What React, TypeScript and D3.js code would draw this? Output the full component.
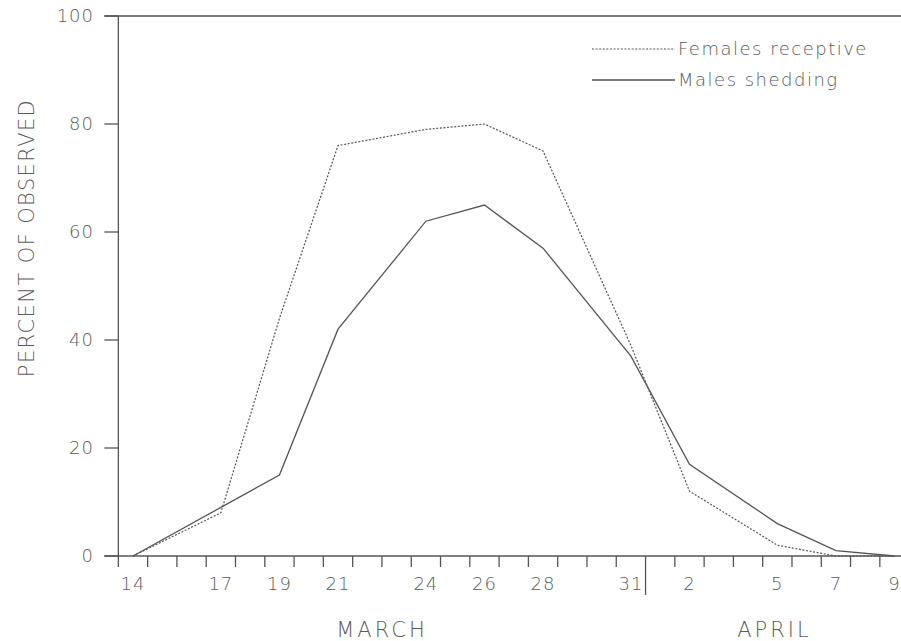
import React from "react";
import * as d3 from "d3";

const dayLabels = ["14", "17", "19", "21", "24", "26", "28", "31", "2", "5", "7", "9"];
const dayIndex = [0, 3, 5, 7, 10, 12, 14, 17, 19, 22, 24, 26];
const females = [0, 8, 44, 76, 79, 80, 75, 39, 12, 2, 0, 0];
const males = [0, 9, 15, 42, 62, 65, 57, 37, 17, 6, 1, 0];
const yTicks = [0, 20, 40, 60, 80, 100];
const monthLabels = [
  { name: "MARCH", at: 8.5 },
  { name: "APRIL", at: 21.9 },
];
const monthBoundary = 17.5;
const seriesNames = ["Females receptive", "Males shedding"];

const W = 901;
const H = 641;
const FONT = "'DejaVu Sans', sans-serif";
const TXT = "#5a5a5a";
const AX = "#555";

export default function App() {
  const x = d3.scaleLinear().domain([0, 26]).range([133, 894.5]);
  const y = d3.scaleLinear().domain([0, 100]).range([556, 16]);
  const axisX = x(-0.5);

  const line = d3
    .line<number>()
    .x((_, i) => x(dayIndex[i]))
    .y((v) => y(v));

  const minorTicks = d3.range(0, 26).map((i) => i + 0.5).filter((t) => t !== monthBoundary);

  return (
    <svg width={W} height={H} style={{ position: "absolute", left: 0, top: 0, background: "#fff" }}>
      {/* y axis line */}
      <line x1={axisX} x2={axisX} y1={y(100)} y2={y(0) + 11} stroke={AX} strokeWidth={1.3} />
      {/* top frame line */}
      <line x1={axisX - 14} x2={W} y1={y(100)} y2={y(100)} stroke={AX} strokeWidth={1.3} />
      {/* x axis line */}
      <line x1={axisX - 14} x2={W} y1={y(0)} y2={y(0)} stroke={AX} strokeWidth={1.3} />
      {yTicks.map((t) => (
        <g key={t}>
          <line x1={axisX - 14} x2={axisX} y1={y(t)} y2={y(t)} stroke={AX} strokeWidth={1.3} />
          <text
            x={94}
            y={y(t)}
            dy="0.36em"
            textAnchor="end"
            fontFamily={FONT}
            fontWeight={200}
            fontSize={18}
            letterSpacing={1}
            fill={TXT}
          >
            {t}
          </text>
        </g>
      ))}
      {minorTicks.map((t) => (
        <line key={t} x1={x(t)} x2={x(t)} y1={y(0)} y2={y(0) + 11} stroke={AX} strokeWidth={1.3} />
      ))}
      <line
        x1={x(monthBoundary)}
        x2={x(monthBoundary)}
        y1={y(0)}
        y2={y(0) + 39}
        stroke={AX}
        strokeWidth={1.3}
      />
      {dayLabels.map((d, i) => (
        <text
          key={i}
          x={x(dayIndex[i])}
          y={590}
          textAnchor="middle"
          fontFamily={FONT}
          fontWeight={200}
          fontSize={18}
          letterSpacing={1}
          fill={TXT}
        >
          {d}
        </text>
      ))}
      {monthLabels.map((m) => (
        <text
          key={m.name}
          x={x(m.at)}
          y={637}
          textAnchor="middle"
          fontFamily={FONT}
          fontWeight={200}
          fontSize={21}
          letterSpacing={3}
          fill={TXT}
        >
          {m.name}
        </text>
      ))}
      <text
        transform={`translate(34, ${238}) rotate(-90)`}
        textAnchor="middle"
        fontFamily={FONT}
        fontWeight={200}
        fontSize={21}
        letterSpacing={1.4}
        fill={TXT}
      >
        PERCENT OF OBSERVED
      </text>

      {/* series */}
      <path d={line(females) || ""} fill="none" stroke="#555" strokeWidth={1.2} strokeDasharray="2,1.6" />
      <path d={line(males) || ""} fill="none" stroke="#555" strokeWidth={1.3} />

      {/* legend */}
      <line x1={592} x2={675} y1={49} y2={49} stroke="#555" strokeWidth={1.2} strokeDasharray="2,1.6" />
      <text x={678} y={49} dy="0.36em" fontFamily={FONT} fontWeight={200} fontSize={18} letterSpacing={1.5} fill={TXT}>
        {seriesNames[0]}
      </text>
      <line x1={592} x2={675} y1={80} y2={80} stroke="#555" strokeWidth={1.3} />
      <text x={678} y={80} dy="0.36em" fontFamily={FONT} fontWeight={200} fontSize={18} letterSpacing={1.5} fill={TXT}>
        {seriesNames[1]}
      </text>
    </svg>
  );
}
